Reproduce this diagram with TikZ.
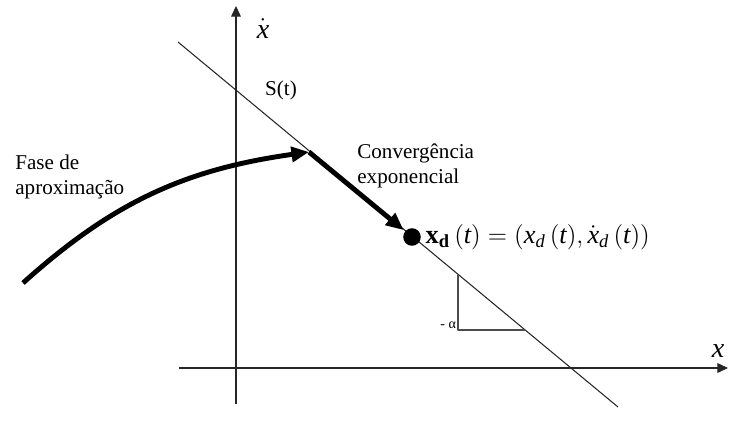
\documentclass[tikz,border=0pt]{standalone}
\usepackage{amsmath}
\usepackage{fontspec}
\setmainfont{Liberation Serif}
\usetikzlibrary{arrows.meta}
% Letras en itálica con la fuente del texto
\newcommand{\itl}[1]{\text{\itshape #1}}

\begin{document}
\begin{tikzpicture}[line join=round]
  % Caja del dibujo
  \useasboundingbox (0,0) rectangle (14.58,8.54);

  % Ejes y recta de deslizamiento
  \coordinate (XStart) at (3.58,1.18);
  \coordinate (XEnd) at (14.56,1.18);
  \coordinate (YStart) at (4.72,0.46);
  \coordinate (YEnd) at (4.72,8.42);
  \coordinate (SStart) at (3.56,7.70);
  \coordinate (SEnd) at (12.36,0.40);
  % Punto donde la trayectoria alcanza S(t)
  \coordinate (Join) at (6.18,5.50);
  \coordinate (Start) at (0.46,2.88);
  % Triángulo de pendiente
  \coordinate (TriTop) at (9.16,3.05);
  \coordinate (TriCorner) at (9.16,1.94);
  \coordinate (TriEnd) at (10.50,1.94);

  % Estilos
  \tikzset{thinline/.style={line width=0.6pt, color=black!85},
           axisline/.style={thinline, -{Triangle[length=6pt,width=5.5pt]}},
           boldarrow/.style={line width=2.8pt, -{Triangle[length=10pt,width=8.5pt]}},
           labeltext/.style={font=\fontsize{12}{14}\selectfont, inner sep=0pt}}

  % Ejes
  \draw[axisline] (XStart) -- (XEnd);
  \draw[axisline] (YStart) -- (YEnd);
  \draw[thinline] (SStart) -- (SEnd); % S(t)
  \draw[thinline, color=black!70] (TriTop) -- (TriCorner) -- (TriEnd);

  % Punto deseado
  \node[circle, fill=black, inner sep=0pt, minimum size=10pt] (xd) at (8.24,3.80) {};

  % Trayectorias
  \draw[boldarrow] (Start) to[out=42, in=188] (Join);
  \draw[boldarrow, shorten >=1pt] (Join) -- (xd);

  % Etiquetas
  \node[font=\fontsize{16}{18}\selectfont] (xdot) at (5.26,7.96) {$\dot{\itl{x}}$};
  \node[font=\fontsize{16}{18}\selectfont] (xlab) at (14.36,1.52) {\itshape x};
  \node[labeltext] (st) at (5.62,6.74) {S(t)};
  \node[labeltext, anchor=west, align=left] (fase) at (0.30,5.00) {Fase de\\aproximação};
  \node[labeltext, anchor=west, align=left] (conv) at (7.14,5.22) {Convergência\\exponencial};
  \node[anchor=west, inner sep=0pt, font=\fontsize{15}{17}\selectfont] (eq) at (xd.east)
    {$\,\mathbf{x}_{\mathbf{d}}\,(\itl{t})=(\itl{x}_{\itl{d}}\,(\itl{t}),\dot{\itl{x}}_{\itl{d}}\,(\itl{t}))$};
  \node[font=\fontsize{8}{9}\selectfont, anchor=east, inner sep=1pt] (alpha) at (TriCorner |- 0,2.04) {- α};
\end{tikzpicture}
\end{document}
